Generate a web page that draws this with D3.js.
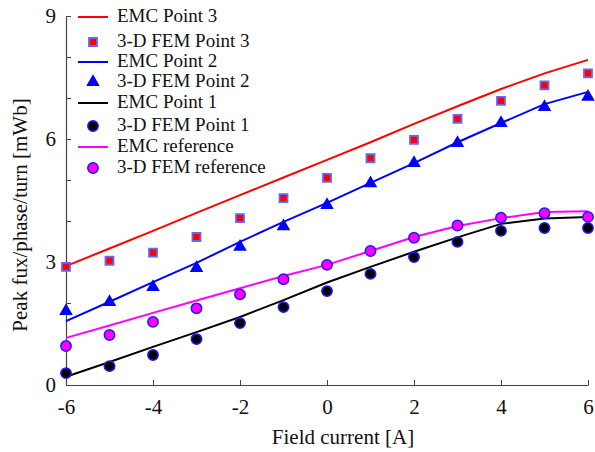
<!DOCTYPE html>
<html><head><meta charset="utf-8">
<script src="https://cdn.jsdelivr.net/npm/d3@7"></script>
<style>body{margin:0;background:#fff}svg{display:block}text{font-family:"Liberation Serif","Times New Roman",serif}</style>
</head><body><svg id="c" width="595" height="452"></svg>
<script>
const current = [-6,-5,-4,-3,-2,-1,0,1,2,3,4,5,6];
const emc3 = [2.9,3.33,3.76,4.2,4.63,5.06,5.49,5.92,6.37,6.8,7.22,7.6,7.93];
const fem3 = [2.88,3.03,3.23,3.61,4.07,4.56,5.05,5.53,5.98,6.49,6.93,7.31,7.6];
const emc2 = [1.56,2.03,2.51,2.98,3.49,3.98,4.44,4.93,5.41,5.92,6.39,6.85,7.15];
const fem2 = [1.8,2.02,2.39,2.85,3.37,3.87,4.39,4.92,5.41,5.9,6.39,6.78,7.03];
const emc1 = [0.2,0.56,0.93,1.29,1.66,2.07,2.5,2.88,3.25,3.6,3.93,4.06,4.1];
const fem1 = [0.29,0.46,0.73,1.12,1.51,1.9,2.29,2.71,3.12,3.49,3.76,3.83,3.83];
const emcRef = [1.15,1.45,1.76,2.06,2.36,2.66,2.93,3.27,3.61,3.88,4.07,4.22,4.24];
const femRef = [0.95,1.22,1.54,1.87,2.21,2.58,2.93,3.27,3.59,3.89,4.08,4.19,4.1];
const xTicks = [-6,-4,-2,0,2,4,6];
const yTicks = [0,1,2,3,4,5,6,7,8,9];
const yLabels = [0,3,6,9];

const svg = d3.select("#c");
const x = d3.scaleLinear().domain([-6,6]).range([66,588]);
const y = d3.scaleLinear().domain([0,9]).range([385,16]);
const axisCol = "#444";

// axes
const xa = svg.append("g").attr("transform","translate(0,385)")
  .call(d3.axisBottom(x).tickValues(xTicks).tickSizeInner(-5).tickSizeOuter(0).tickPadding(14).tickFormat(d => String(d)));
const ya = svg.append("g").attr("transform","translate(66,0)")
  .call(d3.axisLeft(y).tickValues(yTicks).tickSizeInner(-5).tickSizeOuter(0).tickPadding(10)
    .tickFormat(d => yLabels.includes(d) ? String(d) : ""));
[xa,ya].forEach(g=>{
  g.select(".domain").attr("stroke",axisCol).attr("stroke-width",1.2);
  g.selectAll(".tick line").attr("stroke",axisCol).attr("stroke-width",1);
  g.selectAll(".tick text").attr("fill","#111").style("font-size","21px").style("font-family","Liberation Serif");
});

svg.append("text").attr("x",343).attr("y",444).attr("text-anchor","middle")
  .style("font-size","21px").attr("fill","#111").text("Field current [A]");
svg.append("text").attr("transform","translate(27,215) rotate(-90)").attr("text-anchor","middle")
  .style("font-size","21px").attr("fill","#111").text("Peak fux/phase/turn [mWb]");

const line = d3.line().x((d,i)=>x(current[i])).y(d=>y(d));
const lines = [[emc3,"#ff0000"],[emc2,"#0000ff"],[emc1,"#000000"],[emcRef,"#ff00ff"]];
lines.forEach(([d,c])=>svg.append("path").datum(d).attr("d",line).attr("fill","none").attr("stroke",c).attr("stroke-width",2));

const sq = d3.symbol().type(d3.symbolSquare).size(64);
const tri = d3.symbol().type(d3.symbolTriangle).size(80);
function drawSq(g,cx,cy){g.append("path").attr("d",sq).attr("transform",`translate(${cx},${cy})`).attr("fill","#ff0000").attr("stroke","#6666ff").attr("stroke-width",1.8);}
function drawTri(g,cx,cy){g.append("path").attr("d",tri).attr("transform",`translate(${cx},${cy})`).attr("fill","#0000ff");}
function drawCirc(g,cx,cy,fill){g.append("circle").attr("cx",cx).attr("cy",cy).attr("r",5.2).attr("fill",fill).attr("stroke","#1a1aff").attr("stroke-width",1.5);}

const mk = svg.append("g");
fem3.forEach((v,i)=>drawSq(mk,x(current[i]),y(v)));
fem2.forEach((v,i)=>drawTri(mk,x(current[i]),y(v)));
fem1.forEach((v,i)=>drawCirc(mk,x(current[i]),y(v),"#000"));
femRef.forEach((v,i)=>drawCirc(mk,x(current[i]),y(v),"#ff00ff"));

// legend
const leg = svg.append("g");
const legendItems = [
  ["EMC Point 3","line","#ff0000",17],
  ["3-D FEM Point 3","sq",null,42],
  ["EMC Point 2","line","#0000ff",62],
  ["3-D FEM Point 2","tri",null,82],
  ["EMC Point 1","line","#000000",103],
  ["3-D FEM Point 1","circ","#000",126],
  ["EMC reference","line","#ff00ff",147],
  ["3-D FEM reference","circ","#ff00ff",168]
];
legendItems.forEach(([t,k,c,yy])=>{
  if(k==="line") leg.append("line").attr("x1",78).attr("x2",108).attr("y1",yy).attr("y2",yy).attr("stroke",c).attr("stroke-width",2);
  else if(k==="sq") drawSq(leg,93,yy);
  else if(k==="tri") drawTri(leg,93,yy);
  else drawCirc(leg,93,yy,c);
  leg.append("text").attr("x",117).attr("y",yy+5).style("font-size","19px").attr("fill","#111").text(t);
});
</script></body></html>
